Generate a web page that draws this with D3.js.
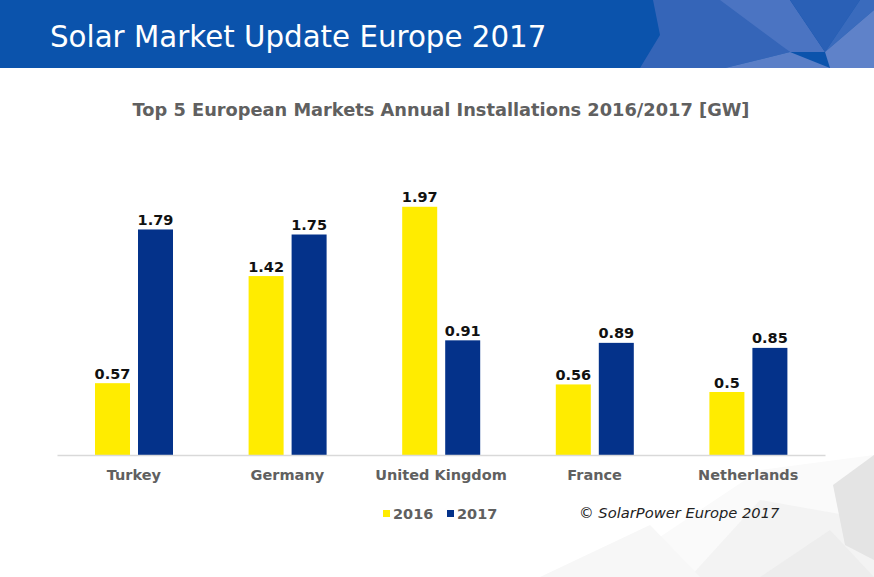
<!DOCTYPE html>
<html><head><meta charset="utf-8">
<script src="https://cdn.jsdelivr.net/npm/d3@7/dist/d3.min.js"></script>
<style>html,body{margin:0;padding:0;background:#fff;}svg{display:block;}</style>
</head><body><svg id="c" width="874" height="577"></svg>
<script>
const categories = ["Turkey","Germany","United Kingdom","France","Netherlands"];
const series = ["2016","2017"];
const values2016 = [0.57,1.42,1.97,0.56,0.5];
const values2017 = [1.79,1.75,0.91,0.89,0.85];
const labels2016 = ["0.57","1.42","1.97","0.56","0.5"];
const labels2017 = ["1.79","1.75","0.91","0.89","0.85"];
const colors = ["#FFEC00","#04328A"];

const svg = d3.select("#c");
const W = 874, H = 577;

// background decoration (lower right light polygons)
const deco = svg.append("g");
const polys = [
  [[600,577],[760,470],[874,455],[874,577]],
  [[690,577],[760,500],[874,520],[874,577]],
  [[833,485],[874,455],[874,560],[845,545]],
  [[760,577],[830,530],[874,577]],
  [[540,577],[650,525],[700,577]]
];
const fills = ["#fafafa","#f3f3f3","#e4e4e4","#ededed","#f7f7f7"];
polys.forEach((p,i)=>deco.append("polygon").attr("points",p.map(d=>d.join(",")).join(" ")).attr("fill",fills[i]));

// header band
const hdr = svg.append("g");
hdr.append("rect").attr("x",0).attr("y",0).attr("width",W).attr("height",68).attr("fill","#0B53AC");
const hpolys = [
  [[653,0],[730,0],[790,52],[725,68],[640,68],[660,35]],
  [[720,0],[790,0],[825,52],[790,52]],
  [[725,68],[790,52],[830,68]],
  [[790,0],[860,0],[825,52]],
  [[860,0],[874,0],[874,10],[825,52]],
  [[825,52],[874,10],[874,68],[830,68]]
];
const hfills = ["#3565b8","#4b74c2","#5b7fc7","#2a60b6","#3a6bbd","#5f82c9"];
hpolys.forEach((p,i)=>hdr.append("polygon").attr("points",p.map(d=>d.join(",")).join(" ")).attr("fill",hfills[i]));
hdr.append("text").attr("x",50).attr("y",47).attr("fill","#fff")
  .attr("font-family","DejaVu Sans").attr("font-size",29.3).text("Solar Market Update Europe 2017");

// chart title
svg.append("text").attr("x",441).attr("y",116).attr("text-anchor","middle")
  .attr("font-family","DejaVu Sans").attr("font-weight","bold").attr("font-size",17.8)
  .attr("fill","#606060").text("Top 5 European Markets Annual Installations 2016/2017 [GW]");

// scales
const x0 = d3.scaleBand().domain(categories).range([57,825]).paddingInner(0).paddingOuter(0);
const x1 = d3.scaleBand().domain(series).range([38,116]).paddingInner(0.186).paddingOuter(0);
const y = d3.scaleLinear().domain([0,2]).range([455,203]);

const data = categories.map((c,i)=>({cat:c, vals:[
  {s:"2016", v:values2016[i], l:labels2016[i]},
  {s:"2017", v:values2017[i], l:labels2017[i]}]}));

const g = svg.append("g");
const grp = g.selectAll("g.cat").data(data).join("g").attr("transform",d=>`translate(${x0(d.cat)},0)`);
grp.selectAll("rect").data(d=>d.vals).join("rect")
  .attr("x",d=>x1(d.s)).attr("width",x1.bandwidth())
  .attr("y",d=>y(d.v)).attr("height",d=>y(0)-y(d.v))
  .attr("fill",(d,i)=>colors[i]);
grp.selectAll("text").data(d=>d.vals).join("text")
  .attr("x",d=>x1(d.s)+x1.bandwidth()/2).attr("y",d=>y(d.v)-4.5)
  .attr("text-anchor","middle").attr("font-family","DejaVu Sans").attr("font-weight","bold")
  .attr("font-size",14.5).attr("fill","#111").text(d=>d.l);

// axis
const ax = svg.append("g").attr("transform",`translate(0,${y(0)})`)
  .call(d3.axisBottom(x0).tickSize(0).tickPadding(15));
ax.select(".domain").attr("stroke","#d9d9d9").attr("stroke-width",1.5);
ax.selectAll("text").attr("font-family","DejaVu Sans").attr("font-weight","bold")
  .attr("font-size",14.5).attr("fill","#606060");

// legend
const leg = svg.append("g");
const legX = [383,447];
series.forEach((s,i)=>{
  leg.append("rect").attr("x",legX[i]).attr("y",510).attr("width",7).attr("height",7).attr("fill",colors[i]);
  leg.append("text").attr("x",legX[i]+10).attr("y",519).attr("font-family","DejaVu Sans")
    .attr("font-weight","bold").attr("font-size",14.5).attr("fill","#606060").text(s);
});
svg.append("text").attr("x",579).attr("y",518).attr("font-family","DejaVu Sans")
  .attr("font-style","italic").attr("font-size",14.7).attr("fill","#222").text("© SolarPower Europe 2017");
</script></body></html>
